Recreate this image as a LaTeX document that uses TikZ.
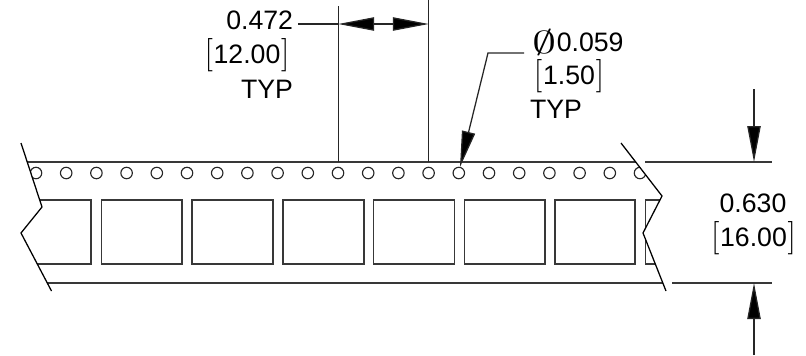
\documentclass[tikz,border=0pt]{standalone}
\usepackage[no-math]{fontspec}
\usepackage{graphicx}
\setsansfont{Liberation Sans}
\usetikzlibrary{arrows.meta}
\newcommand{\lbrk}{{\fontsize{25}{25}\rmfamily\selectfont [\kern0.6pt}}
\newcommand{\rbrk}{{\fontsize{25}{25}\rmfamily\selectfont \kern0.6pt]}}
\tikzset{
  tape/.style={draw=black!78,line width=1.15pt},
  cut/.style={draw=black,line width=0.95pt,line join=miter},
  dim/.style={draw=black!85,line width=0.95pt},
  tip/.style={-{Triangle[length=27pt,width=10pt,fill=black]}},
  tips/.style={{Triangle[length=27pt,width=10pt,fill=black]}-{Triangle[length=27pt,width=10pt,fill=black]}},
  lab/.style={font=\sffamily\fontsize{20}{20}\selectfont,inner sep=0pt,outer sep=0pt,text=black},
  hole/.style={draw=black!85,line width=0.85pt,circle,minimum size=8.6pt,inner sep=0pt},
  pocket/.style={draw=black!78,line width=1.0pt}
}
\begin{document}
\begin{tikzpicture}[x=0.75pt,y=-0.75pt]
\useasboundingbox (0,0) rectangle (806,355);
% break outlines
\coordinate (la) at (21,143); \coordinate (lb) at (42,207); \coordinate (lc) at (21,233); \coordinate (ld) at (51.5,291);
\coordinate (ra) at (621,143); \coordinate (rb) at (662,196); \coordinate (rc) at (643,233); \coordinate (rd) at (666,291);
\begin{scope}
  \clip (la) -- (lb) -- (lc) -- (ld) -- (rd) -- (rc) -- (rb) -- (ra) -- cycle;
  \foreach \i in {0,...,20} {
    \node[hole] (h\i) at ({36+\i*30.2},173) {};
  }
  \draw[pocket] (10,200) rectangle (91,264);
  \draw[pocket] (101.5,200) rectangle (182,264);
  \draw[pocket] (192,200) rectangle (273,264);
  \draw[pocket] (283,200) rectangle (364,264);
  \draw[pocket] (373.5,200) rectangle (454.5,264);
  \draw[pocket] (464.5,200) rectangle (545,264);
  \draw[pocket] (555,200) rectangle (635,264);
  \draw[pocket] (645.5,200) rectangle (680,264);
  \draw[tape] (20,162) -- (650,162);
  \draw[tape] (20,283) -- (670,283);
\end{scope}
\coordinate (t2) at (645,162); \coordinate (t3) at (772,162);
\coordinate (b2) at (672,283); \coordinate (b3) at (772,283);
\draw[tape] (t2) -- (t3);
\draw[tape] (b2) -- (b3);
\draw[cut] (la) -- (lb) -- (lc) -- (ld);
\draw[cut] (ra) -- (rb) -- (rc) -- (rd);
% pitch dimension
\coordinate (e1t) at (338.2,6); \coordinate (e1b) at (338.2,162);
\coordinate (e2t) at (428.8,0); \coordinate (e2b) at (428.8,162);
\draw[dim] (e1t) -- (e1b);
\draw[dim] (e2t) -- (e2b);
\coordinate (a1) at (338.2,24); \coordinate (a2) at (428.8,24); \coordinate (l1) at (298,24);
\draw[dim] (l1) -- (a1);
\draw[dim,tips] (a1) -- (a2);
\node[lab,anchor=base east] (p1) at (293,29.5) {0.472};
\node[lab,anchor=base] (p2) at (247,63) {\lbrk 12.00\rbrk};
\node[lab,anchor=base east] (p3) at (293,98) {TYP};
% hole leader
\coordinate (m1) at (524,53); \coordinate (m2) at (488,53); \coordinate (m3) at (460,167);
\draw[dim,tip] (m1) -- (m2) -- (m3);
\node[lab,anchor=base east] (d1) at (623.5,51) {0.059};
\node[lab,anchor=center] (d0) at (545,42) {\scalebox{1.75}[1.15]{$\emptyset$}};
\node[lab,anchor=base] (d2) at (569,84) {\lbrk 1.50\rbrk};
\node[lab,anchor=base west] (d3) at (530,118) {TYP};
% width dimension
\coordinate (w1) at (754,89); \coordinate (w2) at (754,162);
\coordinate (w3) at (754,355); \coordinate (w4) at (754,283);
\draw[dim,tip] (w1) -- (w2);
\draw[dim,tip] (w3) -- (w4);
\node[lab,anchor=base] (s1) at (753,212) {0.630};
\node[lab,anchor=base] (s2) at (753.5,246) {\lbrk 16.00\rbrk};
\end{tikzpicture}
\end{document}
